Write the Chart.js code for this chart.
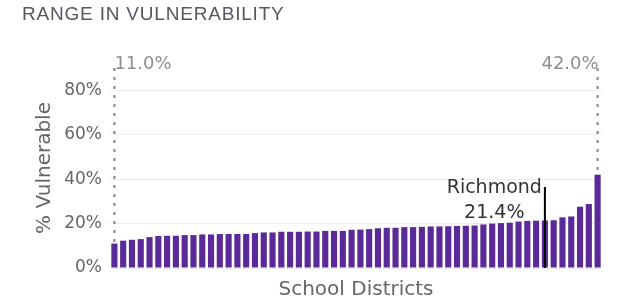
<!DOCTYPE html>
<html>
<head>
<meta charset="utf-8">
<script src="https://cdn.jsdelivr.net/npm/chart.js@4.4.1/dist/chart.umd.min.js"></script>
<style>
  html, body { margin: 0; padding: 0; background: #fff; }
  #wrap { width: 618px; height: 303px; position: relative; }
</style>
</head>
<body>
<div id="wrap"><canvas id="c" width="618" height="303"></canvas></div>
<script>
// ---- data ----
const vulnerability = [
  11.0, 12.3, 12.7, 13.0, 13.9, 14.4, 14.5, 14.5, 14.8, 14.8,
  15.1, 15.1, 15.3, 15.3, 15.3, 15.3, 15.7, 16.0, 16.0, 16.3,
  16.3, 16.3, 16.4, 16.4, 16.7, 16.7, 16.7, 17.2, 17.3, 17.5,
  17.9, 18.1, 18.1, 18.4, 18.4, 18.5, 18.7, 18.7, 18.8, 18.9,
  19.0, 19.1, 19.6, 20.0, 20.2, 20.4, 20.9, 21.2, 21.3, 21.4,
  21.5, 22.8, 23.2, 27.6, 28.8, 42.0
];
const highlightName = 'Richmond';
const highlightIndex = 49;
const districts = vulnerability.map((v, i) => i === highlightIndex ? highlightName : 'District ' + (i + 1));
const yTickValues = [0, 20, 40, 60, 80];
const yMax = 90;
const titleText = 'RANGE IN VULNERABILITY';
const yTitle = '% Vulnerable';
const xTitle = 'School Districts';

const annotations = {
  id: 'annotations',
  afterDraw(chart) {
    const ctx = chart.ctx;
    const x = chart.scales.x, y = chart.scales.y;
    const ca = chart.chartArea;
    ctx.save();
    // title
    ctx.fillStyle = '#55575f';
    ctx.font = '19px "Liberation Sans", Arial, sans-serif';
    ctx.letterSpacing = '0.8px';
    ctx.textAlign = 'left';
    ctx.textBaseline = 'alphabetic';
    ctx.fillText(titleText, 22, 20);
    ctx.letterSpacing = '0px';

    // axis titles
    ctx.fillStyle = '#666';
    ctx.font = '20px "DejaVu Sans", sans-serif';
    ctx.textAlign = 'center';
    ctx.fillText(xTitle, (ca.left + ca.right) / 2, 295);
    ctx.save();
    ctx.translate(45, (ca.top + ca.bottom) / 2);
    ctx.rotate(-Math.PI / 2);
    ctx.textBaseline = 'middle';
    ctx.fillText(yTitle, 0, 0);
    ctx.restore();

    // min / max dotted lines and labels
    const first = 0, last = vulnerability.length - 1;
    const x0 = x.getPixelForValue(first), x1 = x.getPixelForValue(last);
    ctx.strokeStyle = '#999';
    ctx.lineWidth = 2.5;
    ctx.setLineDash([3, 6]);
    ctx.beginPath();
    ctx.moveTo(x0, ca.top);
    ctx.lineTo(x0, y.getPixelForValue(vulnerability[first]));
    ctx.moveTo(x1, ca.top);
    ctx.lineTo(x1, y.getPixelForValue(vulnerability[last]));
    ctx.stroke();
    ctx.setLineDash([]);
    ctx.fillStyle = '#8e8e8e';
    ctx.font = '18px "DejaVu Sans", sans-serif';
    ctx.textAlign = 'left';
    ctx.fillText(vulnerability[first].toFixed(1) + '%', x0, 69);
    ctx.textAlign = 'right';
    ctx.fillText(vulnerability[last].toFixed(1) + '%', x1 + 1, 69);

    // highlighted district
    const hx = x.getPixelForValue(highlightIndex);
    ctx.strokeStyle = '#000';
    ctx.lineWidth = 2;
    ctx.beginPath();
    ctx.moveTo(hx, 187);
    ctx.lineTo(hx, ca.bottom);
    ctx.stroke();
    ctx.fillStyle = '#333';
    ctx.font = '19px "DejaVu Sans", sans-serif';
    const w = ctx.measureText(highlightName).width;
    const cx = hx - 3 - w / 2;
    ctx.textAlign = 'center';
    ctx.fillText(highlightName, cx, 193);
    ctx.fillText(vulnerability[highlightIndex].toFixed(1) + '%', cx, 218);
    ctx.restore();
  }
};

new Chart(document.getElementById('c'), {
  type: 'bar',
  data: {
    labels: districts,
    datasets: [{
      data: vulnerability,
      backgroundColor: '#5c2a98',
      barPercentage: 0.7,
      categoryPercentage: 1.0
    }]
  },
  options: {
    responsive: false,
    animation: false,
    layout: { padding: { top: 68, right: 16, left: 0, bottom: 0 } },
    plugins: { legend: { display: false }, tooltip: { enabled: false }, title: { display: false } },
    scales: {
      x: {
        ticks: { display: false },
        grid: { display: false },
        border: { display: false },
        afterFit(scale) { scale.height = 35; }
      },
      y: {
        min: 0,
        max: yMax,
        ticks: {
          stepSize: 20,
          padding: 8,
          color: '#666',
          font: { family: '"DejaVu Sans", sans-serif', size: 17 },
          callback: v => v + '%'
        },
        afterBuildTicks(scale) {
          scale.ticks = yTickValues.map(v => ({ value: v }));
        },
        grid: { color: '#ececec', drawTicks: false, lineWidth: 1 },
        border: { display: false },
        afterFit(scale) { scale.width = 110; }
      }
    }
  },
  plugins: [annotations]
});
</script>
</body>
</html>
